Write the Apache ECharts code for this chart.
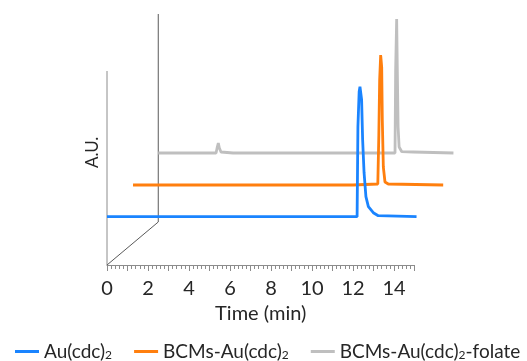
<!DOCTYPE html>
<html>
<head>
<meta charset="utf-8">
<script src="https://cdn.jsdelivr.net/npm/echarts@6/dist/echarts.min.js"></script>
<style>
html,body{margin:0;padding:0;background:#fff;}
#c{width:527px;height:361px;}
</style>
</head>
<body>
<div id="c"></div>
<script>
// ---- data (time in min, intensity in A.U. above each trace's baseline) ----
var seriesNames = ['Au(cdc)2', 'BCMs-Au(cdc)2', 'BCMs-Au(cdc)2-folate'];
var blueTime = [0, 3.3, 3.37, 3.44, 12.2, 12.24, 12.3, 12.34, 12.42, 12.47, 12.54, 12.63, 12.75, 12.99, 13.23, 15.1];
var blueVal  = [0, 0, 2, 0, 0, 90, 125, 130, 117, 77, 44, 20, 10, 4, 1, 0];
var orangeTime = [0, 3.25, 3.32, 3.39, 10.73, 10.76, 11.94, 11.96, 11.99, 12.03, 12.08, 12.13, 12.16, 12.21, 12.29, 12.45, 12.5, 15.13];
var orangeVal  = [0, 0, 2, 0, 0, 1, 1, 1, 50, 105, 130, 118, 65, 18, 3, 1, 0, 0];
var grayTime = [0, 2.82, 2.88, 2.93, 2.98, 3.06, 3.1, 3.65, 3.7, 3.75, 11.55, 11.58, 11.63, 11.66, 11.7, 11.75, 11.88, 12.44, 12.46, 14.4];
var grayVal  = [0, 0, 6, 10, 5, 1, 0, 0, 1.5, 0, 0, 83, 134, 86, 26, 6, 1.3, 1, 0, 0];
// waterfall offsets (time shift, intensity shift)
var offsetTime = [0, 1.27, 2.5];
var offsetVal = [48.3, 80, 112];
// pseudo-3D frame
var frameYAxis = [[0, 0], [0, 194]];
var frameDiag = [[0, 0], [2.5, 43], [2.5, 251]];
var xTickLabels = [0, 2, 4, 6, 8, 10, 12, 14];

function build(t, v, k) {
  var out = [];
  for (var i = 0; i < t.length; i++) out.push([t[i] + offsetTime[k], v[i] + offsetVal[k]]);
  return out;
}
var colors = ['#1a84ff', '#ff7f0e', '#bfbfbf'];
var FONT = 'Lato';
var TXT = '#262626';
var chart = echarts.init(document.getElementById('c'), null, {renderer: 'canvas'});

function legendFmt(name) {
  if (name === 'Au(cdc)2') return '{a|Au(cdc)}{s|2}';
  if (name === 'BCMs-Au(cdc)2') return '{a|BCMs-Au(cdc)}{s|2}';
  return '{a|BCMs-Au(cdc)}{s|2}{a|-folate}';
}

var pxPerMin = 20.5;
var dataMax = 17;

chart.setOption({
  animation: false,
  backgroundColor: '#fff',
  grid: [
    {left: 107, top: 14, width: pxPerMin * 15, height: 251},
    {left: 107, top: 14, width: pxPerMin * dataMax, height: 251}
  ],
  xAxis: [{
    gridIndex: 0, type: 'value', min: 0, max: 15, interval: 1,
    name: 'Time (min)', nameLocation: 'middle', nameGap: 35,
    nameTextStyle: {fontFamily: FONT, fontSize: 20, color: TXT},
    axisLine: {show: true, lineStyle: {color: '#8c8c8c', width: 1}},
    axisTick: {show: true, length: 6, lineStyle: {color: '#8c8c8c'}},
    minorTick: {show: true, splitNumber: 5, length: 4, lineStyle: {color: '#8c8c8c'}},
    splitLine: {show: false},
    axisLabel: {
      margin: 14, fontFamily: FONT, fontSize: 20, color: TXT,
      formatter: function (v) { return xTickLabels.indexOf(v) >= 0 ? String(v) : ''; }
    }
  }, {
    gridIndex: 1, type: 'value', min: 0, max: dataMax,
    axisLine: {show: false}, axisTick: {show: false}, axisLabel: {show: false}, splitLine: {show: false}
  }],
  yAxis: [{
    gridIndex: 0, type: 'value', min: 0, max: 251,
    axisLine: {show: false}, axisTick: {show: false}, axisLabel: {show: false}, splitLine: {show: false}
  }, {
    gridIndex: 1, type: 'value', min: 0, max: 251,
    axisLine: {show: false}, axisTick: {show: false}, axisLabel: {show: false}, splitLine: {show: false}
  }],
  legend: {
    data: seriesNames, left: 10, top: 337, itemGap: 22,
    icon: 'rect', itemWidth: 24, itemHeight: 3,
    formatter: legendFmt,
    textStyle: {
      fontFamily: FONT, fontSize: 19, color: TXT,
      rich: {
        a: {fontFamily: FONT, fontSize: 19, color: TXT},
        s: {fontFamily: FONT, fontSize: 12, color: TXT, verticalAlign: 'bottom', padding: [8, 0, 0, 0]}
      }
    }
  },
  graphic: [{
    type: 'text', x: 93, y: 168, rotation: Math.PI / 2,
    style: {text: 'A.U.', fontFamily: FONT, fontSize: 17, fill: TXT, verticalAlign: 'middle'}
  }],
  series: [
    {name: 'frameY', type: 'line', xAxisIndex: 1, yAxisIndex: 1, data: frameYAxis, symbol: 'none', silent: true, z: 1,
     lineStyle: {color: '#8c8c8c', width: 1}},
    {name: 'frameD', type: 'line', xAxisIndex: 1, yAxisIndex: 1, data: frameDiag, symbol: 'none', silent: true, z: 1,
     lineStyle: {color: '#595959', width: 1}},
    {name: seriesNames[2], type: 'line', xAxisIndex: 1, yAxisIndex: 1, data: build(grayTime, grayVal, 2), symbol: 'none', z: 2,
     color: colors[2], lineStyle: {color: colors[2], width: 2.8}},
    {name: seriesNames[1], type: 'line', xAxisIndex: 1, yAxisIndex: 1, data: build(orangeTime, orangeVal, 1), symbol: 'none', z: 3,
     color: colors[1], lineStyle: {color: colors[1], width: 2.8}},
    {name: seriesNames[0], type: 'line', xAxisIndex: 1, yAxisIndex: 1, data: build(blueTime, blueVal, 0), symbol: 'none', z: 4,
     color: colors[0], lineStyle: {color: colors[0], width: 2.8}}
  ]
});
</script>
</body>
</html>
